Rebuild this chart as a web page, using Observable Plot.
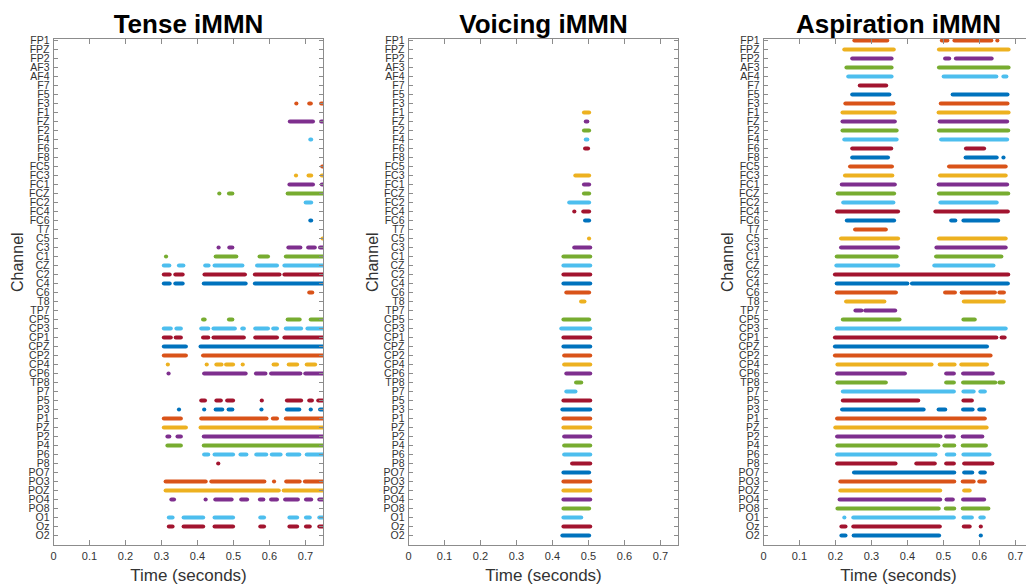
<!DOCTYPE html>
<html><head><meta charset="utf-8">
<script src="https://cdn.jsdelivr.net/npm/d3@7"></script>
<script src="https://cdn.jsdelivr.net/npm/@observablehq/plot@0.6"></script>
<style>
body{margin:0;background:#fff;}
#wrap{width:1026px;height:586px;overflow:hidden;display:flex;}
#wrap > *{flex:none;}
</style></head><body><div id="wrap"></div>
<script>
const channels = ["FP1","FPZ","FP2","AF3","AF4","F7","F5","F3","F1","FZ","F2","F4","F6","F8","FC5","FC3","FC1","FCZ","FC2","FC4","FC6","T7","C5","C3","C1","CZ","C2","C4","C6","T8","TP7","CP5","CP3","CP1","CPZ","CP2","CP4","CP6","TP8","P7","P5","P3","P1","PZ","P2","P4","P6","P8","PO7","PO3","POZ","PO4","PO8","O1","Oz","O2"];
const palette = ["#0072BD","#D95319","#EDB120","#7E2F8E","#77AC30","#4DBEEE","#A2142F"];
const timeTicks = [0,0.1,0.2,0.3,0.4,0.5,0.6,0.7];
const titles = ["Tense iMMN","Voicing iMMN","Aspiration iMMN"];
const xLabel = "Time (seconds)";
const yLabel = "Channel";

// [channel, start, end] (seconds)
const tense = [
["F3",0.676,0.676],["F3",0.712,0.716],["F3",0.745,0.75],
["FZ",0.658,0.722],["FZ",0.745,0.75],
["F4",0.715,0.717],
["FC5",0.748,0.75],
["FC3",0.675,0.675],["FC3",0.71,0.717],["FC3",0.747,0.75],
["FC1",0.657,0.722],["FC1",0.747,0.75],
["FCZ",0.462,0.462],["FCZ",0.489,0.498],["FCZ",0.652,0.75],
["FC2",0.702,0.717],
["FC6",0.715,0.717],
["C5",0.749,0.75],
["C3",0.46,0.46],["C3",0.49,0.498],["C3",0.654,0.687],["C3",0.709,0.727],["C3",0.742,0.75],
["C1",0.314,0.314],["C1",0.452,0.509],["C1",0.574,0.597],["C1",0.647,0.75],
["CZ",0.308,0.323],["CZ",0.35,0.362],["CZ",0.423,0.432],["CZ",0.449,0.526],["CZ",0.567,0.622],["CZ",0.643,0.75],
["C2",0.308,0.324],["C2",0.34,0.36],["C2",0.421,0.533],["C2",0.561,0.629],["C2",0.643,0.75],
["C4",0.308,0.324],["C4",0.34,0.36],["C4",0.419,0.535],["C4",0.561,0.75],
["C6",0.712,0.72],
["CP5",0.417,0.421],["CP5",0.489,0.498],["CP5",0.652,0.685],["CP5",0.716,0.75],
["CP3",0.308,0.327],["CP3",0.343,0.355],["CP3",0.412,0.431],["CP3",0.446,0.505],["CP3",0.526,0.53],["CP3",0.562,0.597],["CP3",0.612,0.622],["CP3",0.647,0.689],["CP3",0.707,0.75],
["CP1",0.308,0.327],["CP1",0.341,0.355],["CP1",0.417,0.431],["CP1",0.446,0.53],["CP1",0.562,0.622],["CP1",0.643,0.75],
["CPZ",0.308,0.369],["CPZ",0.41,0.75],
["CP2",0.308,0.369],["CP2",0.417,0.75],
["CP4",0.319,0.319],["CP4",0.427,0.427],["CP4",0.454,0.468],["CP4",0.481,0.5],["CP4",0.527,0.527],["CP4",0.613,0.622],["CP4",0.655,0.678],["CP4",0.705,0.728],
["CP6",0.321,0.321],["CP6",0.42,0.535],["CP6",0.564,0.59],["CP6",0.606,0.687],["CP6",0.701,0.75],
["P5",0.412,0.422],["P5",0.454,0.466],["P5",0.484,0.5],["P5",0.58,0.58],["P5",0.65,0.689],["P5",0.712,0.719],["P5",0.737,0.75],
["P3",0.35,0.35],["P3",0.42,0.42],["P3",0.452,0.47],["P3",0.488,0.498],["P3",0.579,0.579],["P3",0.65,0.684],["P3",0.716,0.716],["P3",0.742,0.75],
["P1",0.308,0.355],["P1",0.412,0.593],["P1",0.611,0.622],["P1",0.647,0.75],
["PZ",0.308,0.369],["PZ",0.41,0.75],
["P2",0.318,0.323],["P2",0.346,0.355],["P2",0.419,0.75],
["P4",0.318,0.355],["P4",0.419,0.75],
["P6",0.42,0.431],["P6",0.449,0.5],["P6",0.521,0.537],["P6",0.565,0.592],["P6",0.608,0.632],["P6",0.652,0.684],["P6",0.705,0.75],
["P8",0.459,0.459],
["PO3",0.313,0.424],["PO3",0.44,0.587],["PO3",0.614,0.614],["PO3",0.648,0.685],["PO3",0.7,0.75],
["POZ",0.313,0.627],["POZ",0.641,0.75],
["PO4",0.329,0.336],["PO4",0.424,0.424],["PO4",0.451,0.496],["PO4",0.523,0.539],["PO4",0.575,0.584],["PO4",0.606,0.622],["PO4",0.645,0.68],["PO4",0.703,0.717],["PO4",0.74,0.75],
["O1",0.322,0.332],["O1",0.363,0.417],["O1",0.449,0.5],["O1",0.576,0.586],["O1",0.657,0.678],["O1",0.703,0.713],["O1",0.74,0.75],
["Oz",0.322,0.332],["Oz",0.363,0.417],["Oz",0.449,0.5],["Oz",0.576,0.586],["Oz",0.657,0.678],["Oz",0.703,0.713],["Oz",0.74,0.75]
];

const voicing = [
["F1",0.489,0.503],["FZ",0.494,0.498],["F2",0.489,0.503],["F4",0.494,0.498],["F6",0.492,0.5],
["FC3",0.465,0.503],["FC1",0.489,0.503],["FCZ",0.489,0.503],["FC2",0.448,0.503],
["FC4",0.462,0.462],["FC4",0.487,0.503],["FC6",0.492,0.503],
["C5",0.503,0.503],["C3",0.462,0.506],["C1",0.432,0.506],["CZ",0.432,0.506],["C2",0.432,0.506],["C4",0.432,0.506],
["C6",0.44,0.503],["T8",0.481,0.49],
["CP5",0.432,0.503],["CP3",0.426,0.506],["CP1",0.432,0.506],["CPZ",0.432,0.506],["CP2",0.434,0.506],["CP4",0.434,0.506],["CP6",0.44,0.506],
["TP8",0.467,0.481],["P7",0.44,0.465],
["P5",0.432,0.506],["P3",0.429,0.506],["P1",0.432,0.506],["PZ",0.432,0.506],["P2",0.434,0.506],["P4",0.434,0.506],["P6",0.434,0.506],["P8",0.456,0.506],
["PO7",0.432,0.503],["PO3",0.432,0.506],["POZ",0.432,0.506],["PO4",0.432,0.506],["PO8",0.432,0.503],
["O1",0.432,0.481],["Oz",0.432,0.506],["O2",0.429,0.503]
];

const aspiration = [
["FP1",0.254,0.345],["FP1",0.497,0.512],["FP1",0.532,0.634],["FP1",0.651,0.651],
["FPZ",0.226,0.363],["FPZ",0.489,0.682],
["FP2",0.248,0.357],["FP2",0.506,0.517],["FP2",0.536,0.635],
["AF3",0.232,0.357],["AF3",0.489,0.682],
["AF4",0.237,0.357],["AF4",0.502,0.648],["AF4",0.668,0.676],
["F7",0.269,0.342],
["F5",0.248,0.351],["F5",0.527,0.679],
["F3",0.229,0.362],["F3",0.494,0.679],
["F1",0.221,0.366],["F1",0.488,0.682],
["FZ",0.221,0.366],["FZ",0.491,0.678],
["F2",0.221,0.371],["F2",0.489,0.681],
["F4",0.226,0.371],["F4",0.495,0.678],
["F6",0.248,0.356],["F6",0.564,0.614],
["F8",0.248,0.347],["F8",0.563,0.649],["F8",0.668,0.668],
["FC5",0.242,0.358],["FC5",0.517,0.674],
["FC3",0.228,0.359],["FC3",0.492,0.674],
["FC1",0.219,0.366],["FC1",0.488,0.678],
["FCZ",0.208,0.364],["FCZ",0.489,0.681],
["FC2",0.223,0.362],["FC2",0.493,0.649],
["FC4",0.206,0.375],["FC4",0.479,0.68],
["FC6",0.233,0.364],["FC6",0.523,0.534],["FC6",0.557,0.653],
["T7",0.256,0.341],
["C5",0.217,0.375],["C5",0.489,0.674],
["C3",0.217,0.375],["C3",0.482,0.674],
["C1",0.205,0.371],["C1",0.481,0.662],
["CZ",0.204,0.375],["CZ",0.476,0.64],
["C2",0.2,0.681],
["C4",0.205,0.401],["C4",0.414,0.68],
["C6",0.205,0.369],["C6",0.506,0.533],["C6",0.552,0.644],["C6",0.657,0.669],
["T8",0.231,0.337],["T8",0.558,0.669],
["TP7",0.257,0.273],["TP7",0.284,0.367],
["CP5",0.222,0.379],["CP5",0.557,0.588],
["CP3",0.205,0.674],
["CP1",0.2,0.648],["CP1",0.663,0.671],
["CPZ",0.2,0.622],
["CP2",0.2,0.632],
["CP4",0.207,0.468],["CP4",0.491,0.532],["CP4",0.551,0.622],
["CP6",0.206,0.394],["CP6",0.509,0.53],["CP6",0.556,0.638],
["TP8",0.207,0.341],["TP8",0.509,0.53],["TP8",0.556,0.645],["TP8",0.657,0.667],
["P7",0.222,0.53],["P7",0.557,0.585],["P7",0.604,0.616],
["P5",0.222,0.431],["P5",0.557,0.58],
["P3",0.22,0.446],["P3",0.488,0.506],["P3",0.556,0.582],["P3",0.601,0.614],
["P1",0.206,0.616],
["PZ",0.201,0.621],
["P2",0.206,0.493],["P2",0.509,0.53],["P2",0.555,0.609],
["P4",0.207,0.487],["P4",0.504,0.531],["P4",0.555,0.619],
["P6",0.206,0.479],["P6",0.511,0.531],["P6",0.557,0.629],
["P8",0.206,0.368],["P8",0.426,0.477],["P8",0.509,0.53],["P8",0.559,0.637],
["PO7",0.253,0.531],["PO7",0.559,0.581],["PO7",0.604,0.616],
["PO3",0.215,0.531],["PO3",0.555,0.585],["PO3",0.601,0.616],
["POZ",0.215,0.492],["POZ",0.559,0.574],
["PO4",0.213,0.492],["PO4",0.51,0.527],["PO4",0.556,0.614],
["PO8",0.207,0.488],["PO8",0.508,0.531],["PO8",0.555,0.626],
["O1",0.226,0.226],["O1",0.251,0.53],["O1",0.557,0.58],["O1",0.604,0.613],
["Oz",0.218,0.229],["Oz",0.251,0.491],["Oz",0.558,0.574],["Oz",0.605,0.605],
["O2",0.218,0.229],["O2",0.252,0.489],["O2",0.605,0.605]
];

const axisColor = "#8c8c8c";
const textColor = "#333";
const tickFont = "'Liberation Sans Narrow', 'Liberation Sans', Arial, sans-serif";
const colorRange = channels.map((c, i) => palette[(i + 1) % palette.length]);

function panel(title, segs) {
  const data = segs.map(([ch, a, b]) => ({ch, a, b}));
  return Plot.plot({
    width: 355, height: 586,
    marginLeft: 53, marginRight: 32, marginTop: 38, marginBottom: 41,
    style: {fontFamily: "'Liberation Sans', Arial, sans-serif", background: "transparent", overflow: "visible"},
    x: {domain: [0, 0.75]},
    y: {type: "point", domain: channels, range: [39.3, 536.5], padding: 0},
    color: {type: "ordinal", domain: channels, range: colorRange},
    marks: [
      Plot.ruleY(data, {y: "ch", x1: "a", x2: "b", stroke: "ch", strokeWidth: 4.2, strokeLinecap: "round", clip: true}),
      Plot.frame({stroke: axisColor}),
      Plot.axisY({anchor: "left", tickSize: -5, tickPadding: 9, fontSize: 10.5, fontFamily: tickFont, label: null, stroke: axisColor, fill: textColor}),
      Plot.axisY({anchor: "right", tickSize: -5, tickFormat: () => "", label: null, stroke: axisColor}),
      Plot.axisX({anchor: "bottom", ticks: timeTicks, tickSize: -5, tickPadding: 12, fontSize: 11, fontFamily: tickFont, tickFormat: d3.format("~g"), label: null, stroke: axisColor, fill: textColor}),
      Plot.axisX({anchor: "top", ticks: timeTicks, tickSize: -5, tickFormat: () => "", label: null, stroke: axisColor}),
      Plot.text([title], {frameAnchor: "top", lineAnchor: "middle", dy: -14, fontSize: 26, fontWeight: "bold", fill: "#000"}),
      Plot.text([xLabel], {frameAnchor: "bottom", lineAnchor: "middle", dy: 30, fontSize: 17, fill: textColor}),
      Plot.text([yLabel], {frameAnchor: "left", lineAnchor: "middle", dx: -36, rotate: -90, fontSize: 16, fill: textColor})
    ]
  });
}

const wrap = document.getElementById("wrap");
wrap.append(panel(titles[0], tense), panel(titles[1], voicing), panel(titles[2], aspiration));
</script>
</body></html>
